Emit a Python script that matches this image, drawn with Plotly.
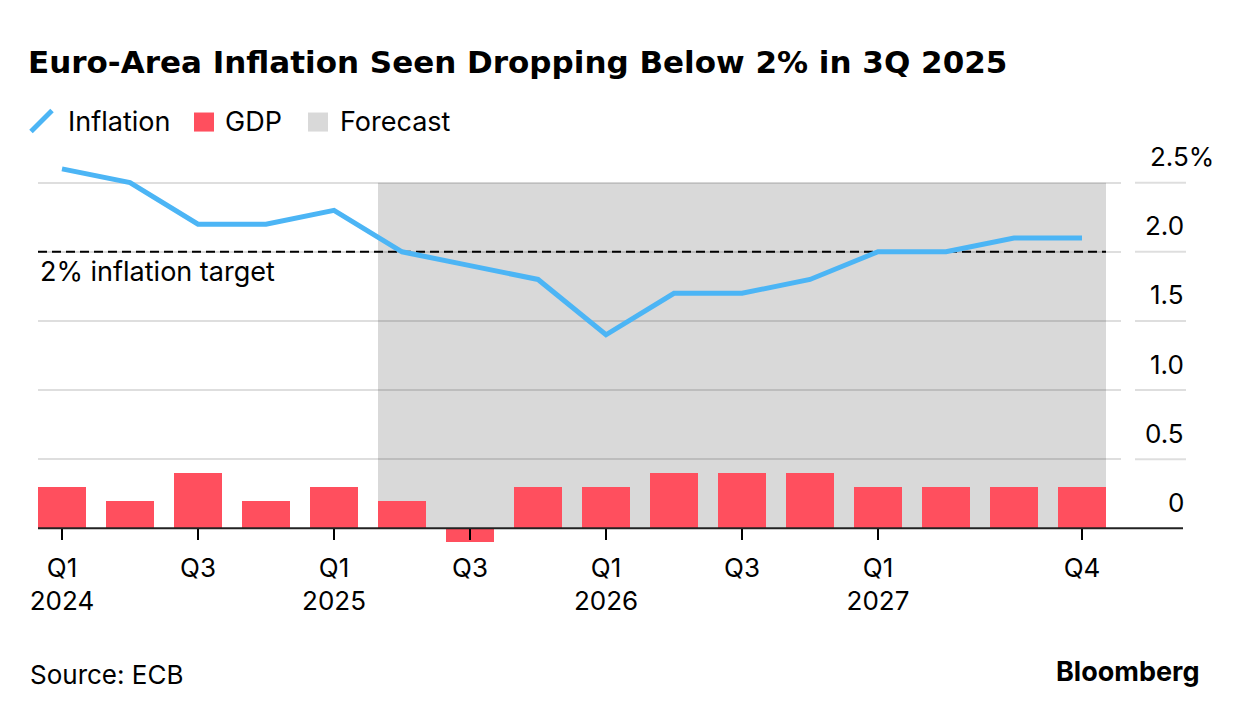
import plotly.graph_objects as go

# ---- data ----
quarters = ["Q1 2024", "Q2 2024", "Q3 2024", "Q4 2024",
            "Q1 2025", "Q2 2025", "Q3 2025", "Q4 2025",
            "Q1 2026", "Q2 2026", "Q3 2026", "Q4 2026",
            "Q1 2027", "Q2 2027", "Q3 2027", "Q4 2027"]
inflation = [2.6, 2.5, 2.2, 2.2, 2.3, 2.0, 1.9, 1.8, 1.4, 1.7, 1.7, 1.8, 2.0, 2.0, 2.1, 2.1]
gdp = [0.3, 0.2, 0.4, 0.2, 0.3, 0.2, -0.1, 0.3, 0.3, 0.4, 0.4, 0.4, 0.3, 0.3, 0.3, 0.3]
forecast_start = 5          # index of first forecast quarter (Q2 2025)
forecast_end = 15           # index of last forecast quarter (Q4 2027)
target = 2.0
x_tick_idx = [0, 2, 4, 6, 8, 10, 12, 15]
x_tick_text = ["Q1<br>2024", "Q3", "Q1<br>2025", "Q3", "Q1<br>2026", "Q3", "Q1<br>2027", "Q4"]
y_tick_vals = [0, 0.5, 1.0, 1.5, 2.0, 2.5]
y_tick_text = ["0", "0.5", "1.0", "1.5", "2.0", "2.5%"]

# ---- style ----
BLUE = "#4CB5F5"
RED = "#FF4F5E"
SHADE = "#D9D9D9"
GRID = "rgba(0,0,0,0.13)"
FONT = "Inter"
TFONT = "DejaVu Sans"
W, H = 1240, 716
ML, MR, MT, MB = 38, 119, 155.4, 160.4
PW, PH = W - ML - MR, H - MT - MB
BARW = 0.706
HALF = BARW / 2
YR = [-0.2, 2.7]
STEP = (1082 - 62) / 15   # px per quarter


def px(xp):
    return (xp - ML) / PW


def py(yp):
    return (H - MB - yp) / PH


x = list(range(len(quarters)))

fig = go.Figure()
fig.add_trace(go.Bar(x=x, y=gdp, width=BARW, marker=dict(color=RED, line=dict(width=0)),
                     name="GDP", showlegend=False, hovertext=quarters))
fig.add_trace(go.Scatter(x=x, y=inflation, mode="lines", line=dict(color=BLUE, width=5),
                         name="Inflation", showlegend=False, hovertext=quarters))

shapes = []
# forecast shading
shapes.append(dict(type="rect", xref="x", yref="y", x0=forecast_start - HALF, x1=forecast_end + HALF,
                   y0=0, y1=y_tick_vals[-1], fillcolor=SHADE, line=dict(width=0), layer="below"))
# target dashed line
shapes.append(dict(type="line", xref="x", yref="y", x0=-HALF, x1=forecast_end + HALF, y0=target, y1=target,
                   line=dict(color="black", width=2, dash="9px,5px"), layer="between"))
# short grid segments under the y labels
for v in y_tick_vals[1:]:
    shapes.append(dict(type="line", xref="paper", yref="y", x0=px(1135), x1=px(1186), y0=v, y1=v,
                       line=dict(color=GRID, width=2)))
# baseline
shapes.append(dict(type="line", xref="paper", yref="y", x0=0, x1=px(1183), y0=0, y1=0,
                   line=dict(color="#222222", width=2), layer="above"))
# legend icons
shapes.append(dict(type="line", xref="paper", yref="paper", x0=px(31), y0=py(132), x1=px(52), y1=py(111),
                   line=dict(color=BLUE, width=5)))
shapes.append(dict(type="rect", xref="paper", yref="paper", x0=px(194), x1=px(214), y0=py(132), y1=py(113),
                   fillcolor=RED, line=dict(width=0)))
shapes.append(dict(type="rect", xref="paper", yref="paper", x0=px(308), x1=px(328), y0=py(132), y1=py(113),
                   fillcolor=SHADE, line=dict(width=0)))

annotations = []
for v, t in zip(y_tick_vals, y_tick_text):
    if t.endswith("%"):
        annotations.append(dict(xref="paper", yref="y", x=px(1148), y=v, text=t, showarrow=False,
                                xanchor="left", yanchor="middle", yshift=26,
                                font=dict(family=FONT, size=26, color="black")))
    else:
        annotations.append(dict(xref="paper", yref="y", x=px(1186), y=v, text=t, showarrow=False,
                                xanchor="right", yanchor="middle", yshift=26,
                                font=dict(family=FONT, size=26, color="black")))
annotations.append(dict(xref="paper", yref="y", x=0, y=target, text="2% inflation target", showarrow=False,
                        xanchor="left", yanchor="top", yshift=-1,
                        font=dict(family=FONT, size=27, color="black")))
for xp, t in [(66, "Inflation"), (223, "GDP"), (338, "Forecast")]:
    annotations.append(dict(xref="paper", yref="paper", x=px(xp), y=py(122), text=t, showarrow=False,
                            xanchor="left", yanchor="middle",
                            font=dict(family=FONT, size=27, color="black")))
annotations.append(dict(xref="paper", yref="paper", x=px(28), y=py(674), text="Source: ECB", showarrow=False,
                        xanchor="left", yanchor="middle", font=dict(family=FONT, size=26, color="black")))
annotations.append(dict(xref="paper", yref="paper", x=px(1201), y=py(671), text="<b>Bloomberg</b>",
                        showarrow=False, xanchor="right", yanchor="middle",
                        font=dict(family=FONT, size=27, color="black")))

fig.update_layout(
    width=W, height=H,
    margin=dict(l=ML, r=MR, t=MT, b=MB, pad=0),
    paper_bgcolor="white", plot_bgcolor="white",
    title=dict(text="<b>Euro-Area Inflation Seen Dropping Below 2% in 3Q 2025</b>",
               x=28 / W, xanchor="left", xref="container",
               y=1 - 62 / H, yanchor="middle", yref="container",
               font=dict(family=TFONT, size=31, color="black")),
    shapes=shapes, annotations=annotations,
    showlegend=False,
    bargap=0,
    xaxis=dict(range=[-HALF, (W - MR - 62) / STEP], showgrid=False, zeroline=False,
               showline=False, anchor="free", position=(0 - YR[0]) / (YR[1] - YR[0]),
               tickmode="array", tickvals=x_tick_idx, ticktext=x_tick_text,
               ticks="outside", ticklen=11, tickwidth=2, tickcolor="black", ticklabelstandoff=5,
               tickfont=dict(family=FONT, size=26, color="black")),
    yaxis=dict(range=YR, tickvals=y_tick_vals[1:], showticklabels=False, showgrid=True,
               gridcolor=GRID, gridwidth=2, zeroline=False, showline=False),
    font=dict(family=FONT, color="black"),
)

fig.write_html("out.html", config={"displayModeBar": False},
               post_script="document.body.style.margin='0px';")
